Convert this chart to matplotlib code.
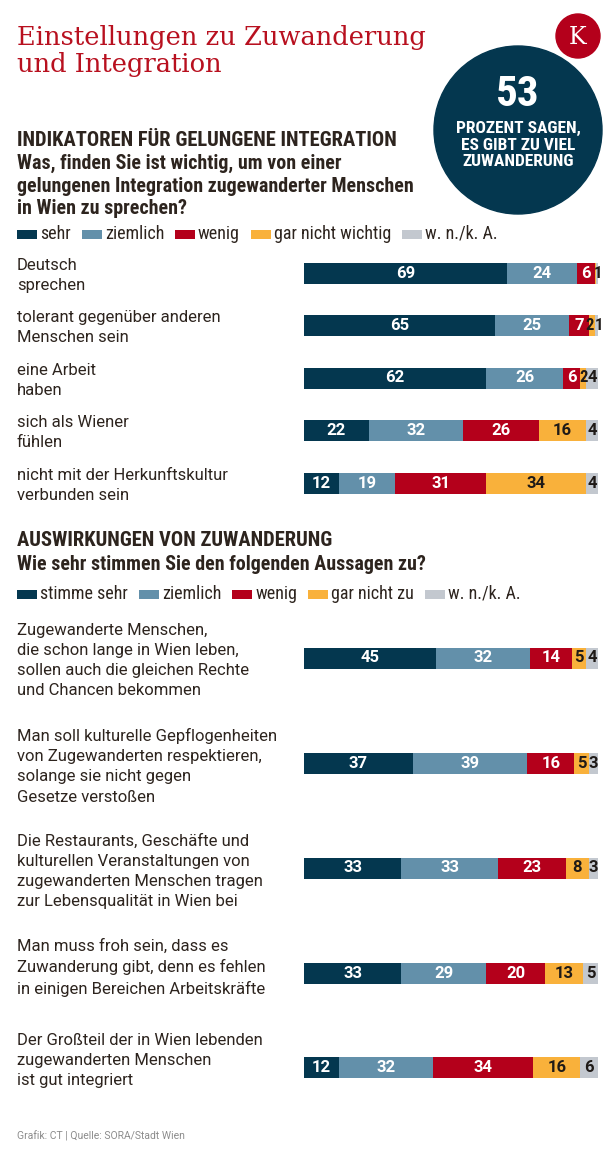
import matplotlib
matplotlib.use('Agg')
import matplotlib.pyplot as plt
import numpy as np
from matplotlib import font_manager
from matplotlib.patches import Circle, Rectangle
from matplotlib.transforms import blended_transform_factory

W, H = 616, 1162

installed = {f.name for f in font_manager.fontManager.ttflist}
COND = next(n for n in ['Roboto Condensed', 'Liberation Sans Narrow', 'Roboto', 'DejaVu Sans']
            if n in installed)
SANS = 'Roboto'
SERIF = 'DejaVu Serif'

# --- data -------------------------------------------------------------
levels1 = ['sehr', 'ziemlich', 'wenig', 'gar nicht wichtig', 'w. n./k. A.']
items1 = ['Deutsch\nsprechen',
          'tolerant gegenüber anderen\nMenschen sein',
          'eine Arbeit\nhaben',
          'sich als Wiener\nfühlen',
          'nicht mit der Herkunftskultur\nverbunden sein']
sehr1 = [69, 65, 62, 22, 12]
ziemlich1 = [24, 25, 26, 32, 19]
wenig1 = [6, 7, 6, 26, 31]
garnicht1 = [0.4, 2, 2, 16, 34]
wnka1 = [1, 1, 4, 4, 4]

levels2 = ['stimme sehr', 'ziemlich', 'wenig', 'gar nicht zu', 'w. n./k. A.']
items2 = ['Zugewanderte Menschen,\ndie schon lange in Wien leben,\nsollen auch die gleichen Rechte\nund Chancen bekommen',
          'Man soll kulturelle Gepflogenheiten\nvon Zugewanderten respektieren,\nsolange sie nicht gegen\nGesetze verstoßen',
          'Die Restaurants, Geschäfte und\nkulturellen Veranstaltungen von\nzugewanderten Menschen tragen\nzur Lebensqualität in Wien bei',
          'Man muss froh sein, dass es\nZuwanderung gibt, denn es fehlen\nin einigen Bereichen Arbeitskräfte',
          'Der Großteil der in Wien lebenden\nzugewanderten Menschen\nist gut integriert']
sehr2 = [45, 37, 33, 33, 12]
ziemlich2 = [32, 39, 33, 29, 32]
wenig2 = [14, 16, 23, 20, 34]
garnicht2 = [5, 5, 8, 13, 16]
wnka2 = [4, 3, 3, 5, 6]

headline = 'Einstellungen zu Zuwanderung\nund Integration'
big_number = '53'
big_text = 'PROZENT SAGEN,\nES GIBT ZU VIEL\nZUWANDERUNG'
section1 = 'INDIKATOREN FÜR GELUNGENE INTEGRATION'
question1 = 'Was, finden Sie ist wichtig, um von einer\ngelungenen Integration zugewanderter Menschen\nin Wien zu sprechen?'
section2 = 'AUSWIRKUNGEN VON ZUWANDERUNG'
question2 = 'Wie sehr stimmen Sie den folgenden Aussagen zu?'
footer = 'Grafik: CT | Quelle: SORA/Stadt Wien'

# --- style ------------------------------------------------------------
colors = ['#04374f', '#6390aa', '#b4001b', '#f9b13b', '#c3c8cf']
label_colors = ['white', 'white', 'white', '#1f1a17', '#1f1a17']
TXT = '#2d241e'
RED = '#b8101f'

fig = plt.figure(figsize=(W / 100, H / 100), dpi=100)
bg = fig.add_axes([0, 0, 1, 1])
bg.set_xlim(0, W)
bg.set_ylim(H, 0)
bg.axis('off')


def px_axes(x0, y0, x1, y1):
    a = fig.add_axes([x0 / W, 1 - y1 / H, (x1 - x0) / W, (y1 - y0) / H])
    a.axis('off')
    return a


# headline + badges
bg.text(17, 51, headline, family=SERIF, fontsize=18.5, color=RED,
        va='center', ha='left', linespacing=1.08)
bg.add_patch(Circle((518, 130), 84, color='#04374f', zorder=2))
bg.add_patch(Circle((578, 36), 22, color='#b4001b', zorder=3))
bg.text(578, 37, 'K', family=SERIF, fontsize=17, color='white',
        ha='center', va='center', zorder=4)
bg.text(518, 94, big_number, family=COND, weight='bold', fontsize=31,
        color='white', ha='center', va='center', zorder=4)
bg.text(518, 145, big_text, family=COND, weight='bold', fontsize=12.5,
        color='white', ha='center', va='center', linespacing=1.12, zorder=4)

# section titles
bg.text(17, 140, section1, family=COND, weight='bold', fontsize=14.8,
        color=TXT, va='center')
bg.text(17, 186, question1, family=COND, weight='bold', fontsize=14.4,
        color=TXT, va='center', linespacing=1.25)
bg.text(17, 541, section2, family=COND, weight='bold', fontsize=14.8,
        color=TXT, va='center')
bg.text(17, 564, question2, family=COND, weight='bold', fontsize=14.4,
        color=TXT, va='center')
bg.text(17, 1136, footer, family=SANS, fontsize=7.5, color='#8c8c8c',
        va='center')

renderer = fig.canvas.get_renderer()


def legend(y, levels):
    x = 17
    for lab, c in zip(levels, colors):
        bg.add_patch(Rectangle((x, y - 4.5), 20, 9, color=c, lw=0))
        t = bg.text(x + 23, y, lab, family=COND, fontsize=13, color=TXT,
                    va='center')
        bb = t.get_window_extent(renderer)
        x = x + 23 + bb.width + 11


legend(234, levels1)
legend(594, levels2)


def stacked(ax, rows, series, height):
    left = np.zeros(len(rows))
    labels = [[] for _ in rows]
    for vals, c, tc in zip(series, colors, label_colors):
        vals = np.asarray(vals, dtype=float)
        ax.barh(rows, vals, left=left, height=height, color=c, lw=0)
        for i, (l, v) in enumerate(zip(left, vals)):
            if v >= 0.5:
                labels[i].append([l + v / 2, v, tc])
        left += vals
    ax.set_xlim(0, 100)

    for r, labs in zip(rows, labels):
        # push apart neighbouring labels of very thin segments
        for a, b in zip(labs[:-1], labs[1:]):
            gap = b[0] - a[0]
            if gap < 3:
                a[0] -= (3 - gap) / 2
                b[0] += (3 - gap) / 2
        for x, v, tc in labs:
            fam = COND if v < 3 else SANS
            ax.text(x, r, f'{v:.0f}', family=fam, weight='bold',
                    fontsize=12, color=tc, ha='center', va='center',
                    clip_on=False)


# section 1
rows1 = np.arange(5)
ax1 = px_axes(304, 246.75, 598, 509.25)
ax1.set_ylim(4.5, -0.5)
stacked(ax1, rows1, [sehr1, ziemlich1, wenig1, garnicht1, wnka1], 0.4)
tr1 = blended_transform_factory(bg.transData, ax1.transData)
for r, lab in zip(rows1, items1):
    ax1.text(17, r + 0.04, lab, transform=tr1, family=SANS, fontsize=12,
             color=TXT, va='center', ha='left', linespacing=1.42)

# section 2
rows2 = np.array([0, 1, 2, 3, 3.9])
ax2 = px_axes(304, 605.5, 598, 1120)
ax2.set_ylim(4.4, -0.5)
stacked(ax2, rows2, [sehr2, ziemlich2, wenig2, garnicht2, wnka2], 0.2)
tr2 = blended_transform_factory(bg.transData, ax2.transData)
for r, lab in zip(rows2, items2):
    ax2.text(17, r - 0.33, lab, transform=tr2, family=SANS, fontsize=12,
             color=TXT, va='top', ha='left', linespacing=1.42)

fig.savefig('out.png', dpi=100)
